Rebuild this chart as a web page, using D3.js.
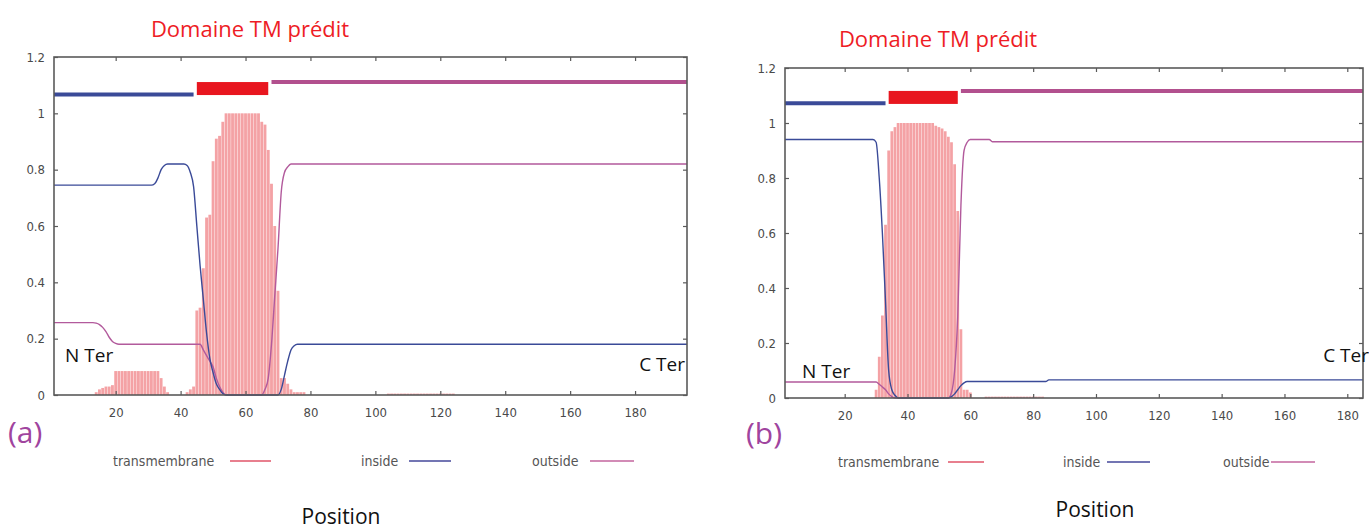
<!DOCTYPE html>
<html><head><meta charset="utf-8">
<script src="https://cdn.jsdelivr.net/npm/d3@7"></script>
<style>body{margin:0;background:#fff}svg{display:block}</style>
</head><body><svg id="c" width="1369" height="530"></svg>
<script>
// ---------------- DATA ----------------
const xTicks = [20, 40, 60, 80, 100, 120, 140, 160, 180];
const yTicks = [0, 0.2, 0.4, 0.6, 0.8, 1, 1.2];
const yTickLabels = ["0", "0.2", "0.4", "0.6", "0.8", "1", "1.2"];
const legendNames = ["transmembrane", "inside", "outside"];
const titleText = "Domaine TM prédit";
const axisTitle = "Position";

// Panel (a)
const lengthA = 196;
const tmA_pos = [14,15,16,17,18,19,20,21,22,23,24,25,26,27,28,29,30,31,32,33,34,35,36,
  42,43,44,45,46,47,48,49,50,51,52,53,54,55,56,57,58,59,60,61,62,63,64,65,66,67,68,69,70,71,72,73,74,75,76,77,78,
  104,105,106,107,108,109,110,111,112,113,114,115,116,117,118,119,120,121,122,123,124];
const tmA_val = [0.01,0.02,0.025,0.03,0.03,0.035,0.085,0.085,0.085,0.085,0.085,0.085,0.085,0.085,0.085,0.085,0.085,0.085,0.085,0.085,0.06,0.03,0.01,
  0.01,0.02,0.03,0.3,0.31,0.45,0.63,0.64,0.83,0.91,0.92,0.97,1,1,1,1,1,1,1,1,1,1,1,0.97,0.96,0.87,0.75,0.6,0.37,0.06,0.06,0.04,0.02,0.01,0.01,0.01,0.01,
  0.005,0.005,0.005,0.005,0.005,0.005,0.005,0.005,0.005,0.005,0.005,0.005,0.005,0.005,0.005,0.005,0.005,0.005,0.005,0.005,0.005];
const insideA_pos = [1,31,32,33,34,35,36,41,42,43,44,45,46,47,48,49,50,51,52,53,54,70,71,72,73,74,75,76,196];
const insideA_val = [0.745,0.745,0.75,0.77,0.8,0.815,0.82,0.82,0.815,0.79,0.74,0.6,0.46,0.34,0.22,0.13,0.08,0.04,0.02,0.005,0,0,0.02,0.07,0.12,0.16,0.175,0.18,0.18];
const outsideA_pos = [1,13,14,15,16,17,18,19,20,21,46,47,48,49,50,51,52,53,54,65,66,67,68,69,70,71,72,73,74,196];
const outsideA_val = [0.257,0.257,0.255,0.25,0.24,0.225,0.205,0.19,0.183,0.18,0.18,0.16,0.14,0.12,0.1,0.06,0.03,0.01,0,0,0.02,0.06,0.18,0.35,0.52,0.72,0.79,0.81,0.82,0.82];
const topA_start = [1, 45, 68];
const topA_end = [44, 67, 196];
const topA_type = ["inside", "transmembrane", "outside"];
const topA_level = [1.067, 1.088, 1.111];

// Panel (b)
const lengthB = 185;
const tmB_pos = [30,31,32,33,34,35,36,37,38,39,40,41,42,43,44,45,46,47,48,49,50,51,52,53,54,55,56,57,58,59,60,
  65,66,67,68,69,70,71,72,73,74,75,76,77,78,79,80,81,82,83];
const tmB_val = [0.03,0.15,0.3,0.63,0.9,0.97,0.985,1,1,1,1,1,1,1,1,1,1,1,1,0.99,0.985,0.98,0.97,0.95,0.93,0.85,0.68,0.25,0.03,0.03,0.02,
  0.005,0.005,0.005,0.005,0.005,0.005,0.005,0.005,0.005,0.005,0.005,0.005,0.005,0.005,0.005,0.005,0.005,0.005,0.005];
const insideB_pos = [1,29,30,31,32,33,34,35,36,37,53,54,55,56,57,58,59,84,85,185];
const insideB_val = [0.94,0.94,0.93,0.8,0.6,0.35,0.1,0.03,0.01,0,0,0.005,0.015,0.03,0.045,0.055,0.06,0.06,0.066,0.066];
const outsideB_pos = [1,30,31,32,33,34,35,36,53,54,55,56,57,58,59,60,66,67,185];
const outsideB_val = [0.058,0.058,0.05,0.04,0.03,0.015,0.005,0,0,0.02,0.1,0.3,0.7,0.9,0.93,0.94,0.94,0.932,0.932];
const topB_start = [1, 34, 57];
const topB_end = [33, 56, 185];
const topB_type = ["inside", "transmembrane", "outside"];
const topB_level = [1.072, 1.093, 1.116];

// ---------------- STYLE / LAYOUT ----------------
const colors = {
  transmembrane: "#e8161f", inside: "#3a4a98", outside: "#b25a9c", topOutside: "#b2508e",
  tmFill: "#f4a2a5", legendTM: "#e05468", legendIn: "#44479a", legendOut: "#c3649e",
  axis: "#5a5a5a", tick: "#4a4a4a", title: "#ee1c25", tag: "#a0449e"
};
const panels = [
  { len: lengthA, tmPos: tmA_pos, tmVal: tmA_val, inPos: insideA_pos, inVal: insideA_val,
    outPos: outsideA_pos, outVal: outsideA_val,
    top: { s: topA_start, e: topA_end, t: topA_type, l: topA_level },
    box: { l: 54, r: 687, t: 57, b: 395 },
    title: { x: 250, y: 37 }, tag: { x: 8, y: 443, text: "(a)" },
    nter: { x: 65, y: 362 }, cter: { x: 685, y: 371 },
    pos: { x: 341, y: 524 },
    legend: { y: 466, text: [113, 361, 532], line: [[230, 271], [409, 451], [590, 634]] } },
  { len: lengthB, tmPos: tmB_pos, tmVal: tmB_val, inPos: insideB_pos, inVal: insideB_val,
    outPos: outsideB_pos, outVal: outsideB_val,
    top: { s: topB_start, e: topB_end, t: topB_type, l: topB_level },
    box: { l: 785, r: 1363, t: 68, b: 398 },
    title: { x: 938, y: 47 }, tag: { x: 746, y: 444, text: "(b)" },
    nter: { x: 802, y: 378 }, cter: { x: 1369, y: 362 },
    pos: { x: 1095, y: 517 },
    legend: { y: 467, text: [838, 1063, 1223], line: [[948, 984], [1107, 1150], [1271, 1315]] } }
];

const svg = d3.select("#c");
const tickFont = "'Liberation Sans Narrow','DejaVu Sans Condensed',sans-serif";
const textFont = "'Open Sans','Noto Sans',sans-serif";

panels.forEach(p => {
  const x = d3.scaleLinear().domain([1, p.len]).range([p.box.l, p.box.r]);
  const y = d3.scaleLinear().domain([0, 1.2]).range([p.box.b, p.box.t]);
  const g = svg.append("g");

  // TM probability impulses
  const bw = x(2) - x(1);
  g.append("g").selectAll("rect").data(p.tmPos.map((d, i) => [d, p.tmVal[i]])).join("rect")
    .attr("x", d => x(d[0]) - bw / 2 + 0.2)
    .attr("width", bw - 0.4)
    .attr("y", d => y(d[1]))
    .attr("height", d => y(0) - y(d[1]))
    .attr("fill", colors.tmFill);

  const line = d3.line().x(d => x(d[0])).y(d => y(d[1])).curve(d3.curveMonotoneX);
  g.append("path").datum(p.outPos.map((d, i) => [d, p.outVal[i]]))
    .attr("d", line).attr("fill", "none").attr("stroke", colors.outside).attr("stroke-width", 1.4);
  g.append("path").datum(p.inPos.map((d, i) => [d, p.inVal[i]]))
    .attr("d", line).attr("fill", "none").attr("stroke", colors.inside).attr("stroke-width", 1.4);

  // top topology bars
  p.top.s.forEach((s, i) => {
    const type = p.top.t[i];
    if (type === "transmembrane") {
      g.append("rect").attr("x", x(s)).attr("width", x(p.top.e[i]) - x(s))
        .attr("y", y(p.top.l[i]) - 6.5).attr("height", 13).attr("fill", colors.transmembrane);
    } else {
      g.append("line").attr("x1", x(s)).attr("x2", x(p.top.e[i]))
        .attr("y1", y(p.top.l[i])).attr("y2", y(p.top.l[i]))
        .attr("stroke", type === "inside" ? colors.inside : colors.topOutside).attr("stroke-width", 4);
    }
  });

  // axes
  const styleAxis = sel => {
    sel.select(".domain").remove();
    sel.selectAll(".tick line").attr("stroke", colors.axis).attr("stroke-width", 1.2);
    sel.selectAll(".tick text").attr("fill", colors.tick).style("font-family", tickFont).style("font-size", "13px");
  };
  g.append("g").attr("transform", `translate(0,${p.box.b})`)
    .call(d3.axisBottom(x).tickValues(xTicks).tickSize(-4).tickPadding(13)).call(styleAxis);
  g.append("g").attr("transform", `translate(0,${p.box.t})`)
    .call(d3.axisTop(x).tickValues(xTicks).tickSize(-4).tickFormat("")).call(styleAxis);
  g.append("g").attr("transform", `translate(${p.box.l},0)`)
    .call(d3.axisLeft(y).tickValues(yTicks).tickSize(-4).tickPadding(9).tickFormat((d, i) => yTickLabels[i])).call(styleAxis);
  g.append("g").attr("transform", `translate(${p.box.r},0)`)
    .call(d3.axisRight(y).tickValues(yTicks).tickSize(-4).tickFormat("")).call(styleAxis);
  g.append("rect").attr("x", p.box.l).attr("y", p.box.t)
    .attr("width", p.box.r - p.box.l).attr("height", p.box.b - p.box.t)
    .attr("fill", "none").attr("stroke", colors.axis).attr("stroke-width", 1.6);

  // legend
  const legCols = [colors.legendTM, colors.legendIn, colors.legendOut];
  legendNames.forEach((name, i) => {
    g.append("text").attr("x", p.legend.text[i]).attr("y", p.legend.y)
      .attr("fill", "#555").style("font-family", tickFont).style("font-size", "14px").text(name);
    g.append("line").attr("x1", p.legend.line[i][0]).attr("x2", p.legend.line[i][1])
      .attr("y1", p.legend.y - 5).attr("y2", p.legend.y - 5)
      .attr("stroke", legCols[i]).attr("stroke-width", 1.6);
  });

  // annotations
  g.append("text").attr("x", p.title.x).attr("y", p.title.y).attr("text-anchor", "middle")
    .attr("fill", colors.title).style("font-family", textFont).style("font-size", "22px").text(titleText);
  g.append("text").attr("x", p.tag.x).attr("y", p.tag.y)
    .attr("fill", colors.tag).style("font-family", textFont).style("font-size", "30px").text(p.tag.text);
  g.append("text").attr("x", p.nter.x).attr("y", p.nter.y)
    .attr("fill", "#111").style("font-family", textFont).style("font-size", "19px").text("N Ter");
  g.append("text").attr("x", p.cter.x).attr("y", p.cter.y).attr("text-anchor", "end")
    .attr("fill", "#111").style("font-family", textFont).style("font-size", "19px").text("C Ter");
  g.append("text").attr("x", p.pos.x).attr("y", p.pos.y).attr("text-anchor", "middle")
    .attr("fill", "#111").style("font-family", textFont).style("font-size", "21px").text(axisTitle);
});
</script></body></html>
